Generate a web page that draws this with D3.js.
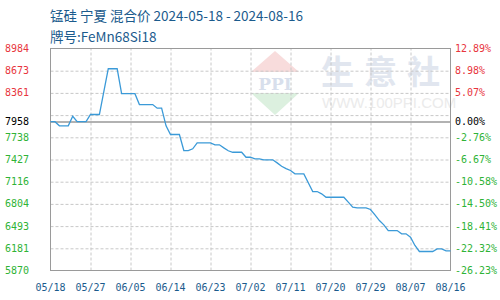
<!DOCTYPE html>
<html>
<head>
<meta charset="utf-8">
<script src="https://cdn.jsdelivr.net/npm/d3@7"></script>
<style>
  body { margin: 0; background: #fff; }
  svg { display: block; }
</style>
</head>
<body>
<div id="chart"></div>
<script>
// chart data
var titleLine1 = "锰硅 宁夏 混合价 2024-05-18 - 2024-08-16";
var titleLine2 = "牌号:FeMn68Si18";
var startDate = "2024-05-18";
var basePrice = 7958;

// daily price, 05/18 .. 08/16
var prices = [
  7958, 7958, 7900, 7900, 7900, 8034, 7958, 7958, 7958, 8058,
  8058, 8058, 8380, 8700, 8700, 8700, 8350, 8350, 8350, 8350,
  8198, 8198, 8198, 8198, 8147, 8147, 7900, 7778, 7778, 7778,
  7553, 7553, 7577, 7661, 7661, 7661, 7661, 7633, 7633, 7590,
  7550, 7529, 7529, 7529, 7459, 7459, 7437, 7437, 7423, 7423,
  7423, 7380, 7333, 7300, 7273, 7226, 7226, 7226, 7100, 6978,
  6978, 6946, 6898, 6898, 6898, 6898, 6898, 6830, 6760, 6750,
  6750, 6750, 6726, 6650, 6571, 6511, 6431, 6431, 6431, 6385,
  6385, 6337, 6221, 6137, 6137, 6137, 6137, 6174, 6174, 6146,
  6146
];

var xTickLabels = ["05/18", "05/27", "06/05", "06/14", "06/23", "07/02",
                   "07/11", "07/20", "07/29", "08/07", "08/16"];
var yMin = 5870.4;
var yMax = 8984;
var yTickLabels = ["8984", "8673", "8361", "", "7738", "7427", "7116",
                   "6804", "6493", "6181", "5870"];
var pctTickLabels = ["12.89%", "8.98%", "5.07%", "", "-2.76%", "-6.67%",
                     "-10.58%", "-14.50%", "-18.41%", "-22.32%", "-26.23%"];

var svgWidth = 500;
var svgHeight = 300;
var margin = {top: 48.5, right: 49.5, bottom: 29.5, left: 50.5};
var width = svgWidth - margin.left - margin.right;
var height = svgHeight - margin.top - margin.bottom;

var parseDate = d3.timeParse("%Y-%m-%d");
var t0 = parseDate(startDate);
var data = prices.map(function(p, i) {
  return {date: d3.timeDay.offset(t0, i), price: p};
});
var t1 = data[data.length - 1].date;

var svg = d3.select("#chart").append("svg")
  .attr("width", svgWidth)
  .attr("height", svgHeight);

// titles
svg.append("text")
  .attr("x", 50).attr("y", 21)
  .attr("font-family", "'Noto Sans CJK SC', sans-serif")
  .attr("font-size", "13.5px")
  .attr("fill", "#1b5b8d")
  .text(titleLine1);
svg.append("text")
  .attr("x", 50).attr("y", 42)
  .attr("font-family", "'Noto Sans CJK SC', sans-serif")
  .attr("font-size", "13.5px")
  .attr("fill", "#1b5b8d")
  .text(titleLine2);

var chartGroup = svg.append("g")
  .attr("transform", `translate(${margin.left}, ${margin.top})`);

// scales
var xScale = d3.scaleTime().domain([t0, t1]).range([0, width]);
var yScale = d3.scaleLinear().domain([yMin, yMax]).range([height, 0]);
var yTicks = d3.range(11).map(function(k) { return yMax - k * (yMax - yMin) / 10; });
var xTicks = xTickLabels.map(function(s, i) { return d3.timeDay.offset(t0, i * 9); });

// watermark
var wm = chartGroup.append("g").attr("transform", "translate(-50.5, -48.5)");
wm.append("path").attr("d", "M275,51 L299,72 L251,72 Z").attr("fill", "#f8dcdc");
wm.append("path").attr("d", "M251,93 L299,93 L275,115 Z").attr("fill", "#dcf0df");
wm.append("text").attr("x", 275).attr("y", 90)
  .attr("text-anchor", "middle")
  .attr("font-family", "'DejaVu Serif', serif").attr("font-weight", "bold")
  .attr("font-size", "17px").attr("fill", "#d8dfec").text("PPI");
wm.append("text").attr("x", 321).attr("y", 84)
  .attr("font-family", "'Noto Sans CJK SC', sans-serif").attr("font-weight", "bold")
  .attr("font-size", "33px").attr("letter-spacing", "10px")
  .attr("fill", "#e1e6ef").text("生意社");
wm.append("text").attr("x", 322).attr("y", 108)
  .attr("font-family", "'Liberation Sans', sans-serif")
  .attr("font-size", "15px").attr("fill", "#ebebeb").text("WWW.100PPI.COM");

// grid lines
chartGroup.append("g")
  .attr("class", "grid")
  .call(d3.axisLeft(yScale).tickValues(yTicks.slice(1, -1)).tickSize(-width).tickFormat(""))
  .call(function(g) { g.select(".domain").remove(); })
  .selectAll("line")
  .attr("stroke", "#c8c8c8")
  .attr("stroke-dasharray", "3,2");

chartGroup.append("g")
  .attr("class", "grid")
  .attr("transform", `translate(0, ${height})`)
  .call(d3.axisBottom(xScale).tickValues(xTicks.slice(1, -1)).tickSize(-height).tickFormat(""))
  .call(function(g) { g.select(".domain").remove(); })
  .selectAll("line")
  .attr("stroke", "#c8c8c8")
  .attr("stroke-dasharray", "3,2");

// base price line
chartGroup.append("line")
  .attr("x1", 0).attr("x2", width)
  .attr("y1", Math.round(yScale(basePrice)) + 0.5)
  .attr("y2", Math.round(yScale(basePrice)) + 0.5)
  .attr("stroke", "#999")
  .attr("stroke-width", 1.5);

// frame
chartGroup.append("rect")
  .attr("width", width).attr("height", height)
  .attr("fill", "none")
  .attr("stroke", "#9a9a9a");

// price line
var line = d3.line()
  .x(d => xScale(d.date))
  .y(d => yScale(d.price));

chartGroup.append("path")
  .datum(data)
  .attr("d", line)
  .attr("fill", "none")
  .attr("stroke", "#3b9ad8")
  .attr("stroke-width", 1.3);

function labelColor(v) {
  if (Math.abs(v - basePrice) < 1) return "#000";
  return v > basePrice ? "#e8353d" : "#2fb336";
}

var monoFont = "'DejaVu Sans Mono', monospace";

// axis label sets, base price added to the ticks
var allY = yTicks.concat([basePrice]);
var allLeft = yTickLabels.concat(["7958"]);
var allRight = pctTickLabels.concat(["0.00%"]);

// left axis labels
chartGroup.selectAll("text.ylab")
  .data(allY)
  .enter()
  .append("text")
  .classed("ylab", true)
  .attr("x", -21.5)
  .attr("y", d => yScale(d))
  .attr("dy", "0.35em")
  .attr("text-anchor", "end")
  .attr("font-family", monoFont)
  .attr("font-size", "10px")
  .attr("fill", d => labelColor(d))
  .text((d, i) => allLeft[i]);

// right axis labels
chartGroup.selectAll("text.plab")
  .data(allY)
  .enter()
  .append("text")
  .classed("plab", true)
  .attr("x", width + 4.5)
  .attr("y", d => yScale(d))
  .attr("dy", "0.35em")
  .attr("font-family", monoFont)
  .attr("font-size", "10px")
  .attr("fill", d => labelColor(d))
  .text((d, i) => allRight[i]);

// x axis labels
chartGroup.selectAll("text.xlab")
  .data(xTicks)
  .enter()
  .append("text")
  .classed("xlab", true)
  .attr("x", d => xScale(d))
  .attr("y", height + 20)
  .attr("text-anchor", "middle")
  .attr("font-family", monoFont)
  .attr("font-size", "10px")
  .attr("fill", "#1b5b8d")
  .text((d, i) => xTickLabels[i]);
</script>
</body>
</html>
